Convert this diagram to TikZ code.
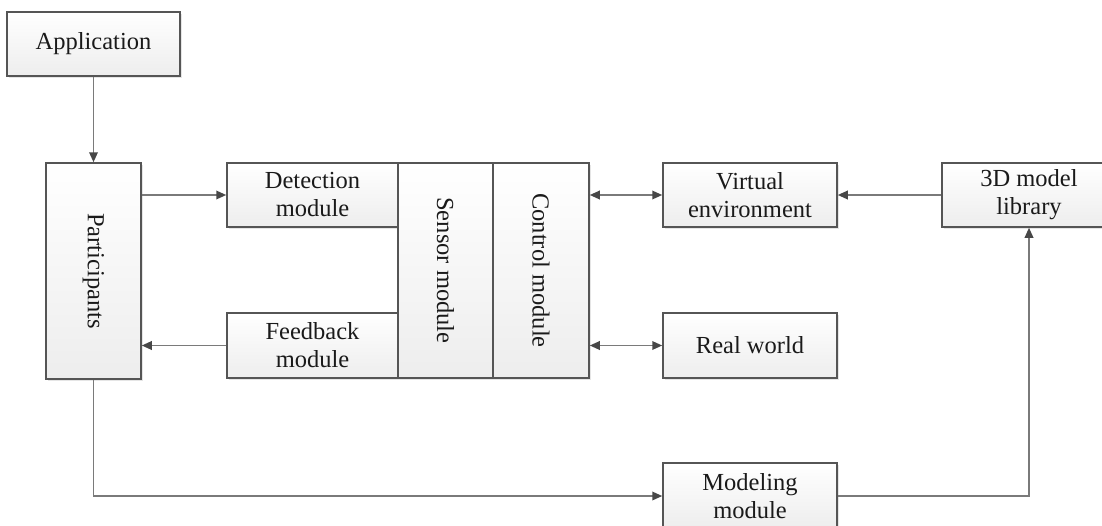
\documentclass[tikz,border=0pt]{standalone}
\usepackage{fontspec}
\setmainfont{Liberation Serif}
\usetikzlibrary{arrows.meta,shadows}
\definecolor{boxline}{HTML}{555555}
\definecolor{connline}{HTML}{7A7A7A}
\definecolor{tipcol}{HTML}{474747}
\definecolor{txt}{HTML}{1A1A1A}
\begin{document}
\begin{tikzpicture}[x=1pt,y=-1pt,
  blk/.style={draw=boxline, line width=1.5pt, top color=white, bottom color=black!7,
    align=center, inner sep=0pt, text=txt,
    font=\fontsize{24.5}{28}\selectfont,
    drop shadow={shadow xshift=2pt, shadow yshift=-2pt, fill=black!20, opacity=0.5}},
  vlabel/.style={rotate=-90, font=\fontsize{24.5}{28}\selectfont, text=txt},
  conn/.style={draw=connline, line width=1.8pt, -{Triangle[length=10pt,width=8.5pt,color=tipcol]}},
  conn2/.style={draw=connline, line width=1.8pt, {Triangle[length=10pt,width=8.5pt,color=tipcol]}-{Triangle[length=10pt,width=8.5pt,color=tipcol]}}
]
\useasboundingbox (0,0) rectangle (1102,525);
\clip (0,0) rectangle (1102,525);

\node[blk, minimum width=173pt, minimum height=64pt] (app) at (93.5,44) {Application};
\node[blk, minimum width=95pt, minimum height=216pt, label={[vlabel]center:Participants}] (part) at (93.5,271) {};
\node[blk, minimum width=171pt, minimum height=64pt] (det) at (312.5,195) {Detection\\module};
\node[blk, minimum width=171pt, minimum height=65pt] (fb) at (312.5,345.5) {Feedback\\module};
\node[blk, minimum width=95pt, minimum height=215pt, label={[vlabel]center:Sensor module}] (sens) at (445.5,270.5) {};
\node[blk, minimum width=96pt, minimum height=215pt, label={[vlabel]center:Control module}] (ctrl) at (541,270.5) {};
\node[blk, minimum width=174pt, minimum height=64pt] (virt) at (750,195) {Virtual\\environment};
\node[blk, minimum width=174pt, minimum height=64pt] (lib) at (1029,195) {3D model\\library};
\node[blk, minimum width=174pt, minimum height=65pt] (real) at (750,345.5) {Real world};
\node[blk, minimum width=174pt, minimum height=66pt] (mod) at (750,496) {Modeling\\module};

\draw[conn] (app.south) -- (part.north);
\draw[conn] (part.east |- det.west) -- (det.west);
\draw[conn] (fb.west) -- (part.east |- fb.west);
\draw[conn2] (ctrl.east |- virt.west) -- (virt.west);
\draw[conn2] (ctrl.east |- real.west) -- (real.west);
\draw[conn] (lib.west) -- (virt.east);
\draw[conn] (part.south) |- (mod.west);
\draw[conn] (mod.east) -| (lib.south);
\end{tikzpicture}
\end{document}
